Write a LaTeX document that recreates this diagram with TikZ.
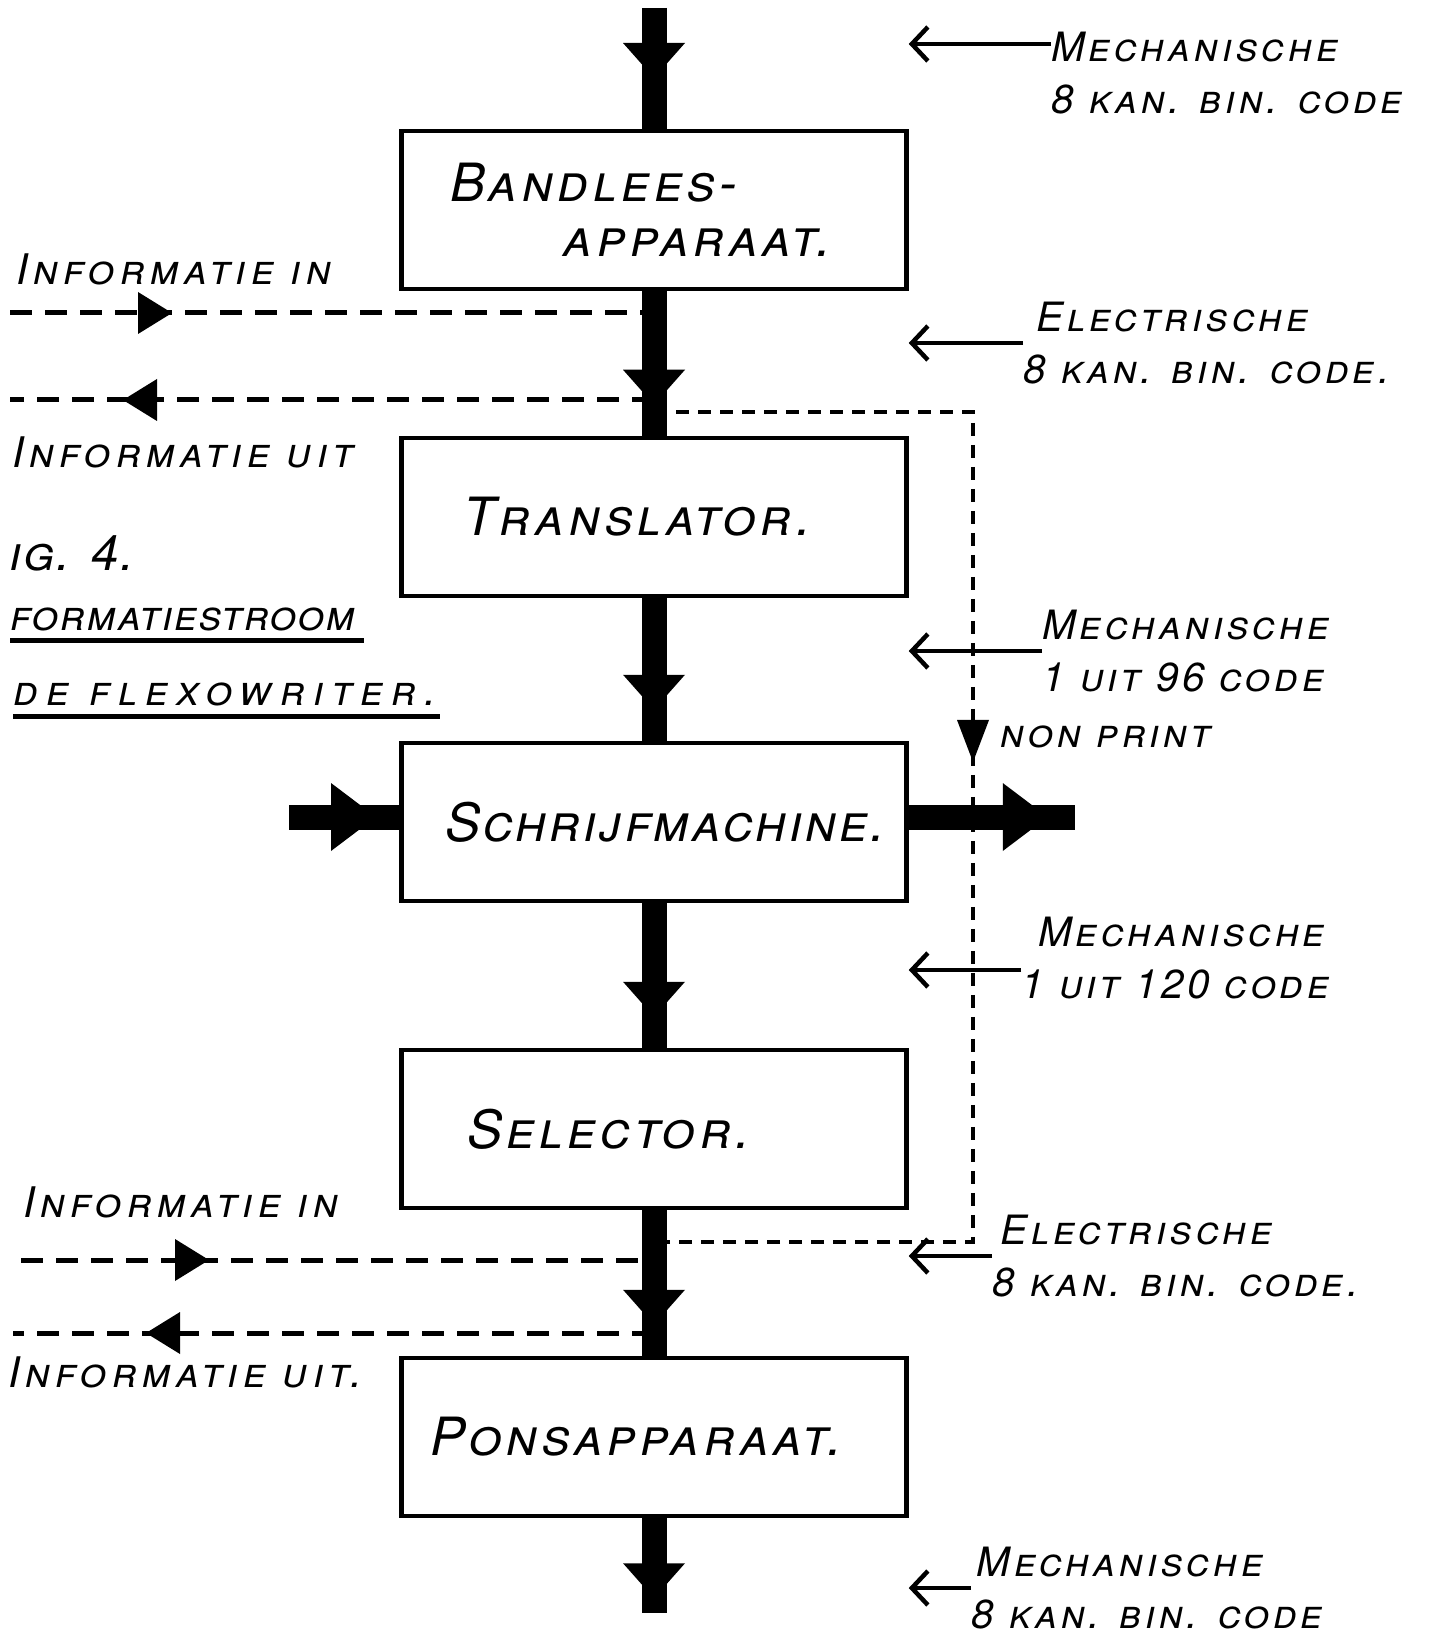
\documentclass[tikz,border=0pt]{standalone}
\usepackage{fontspec}
\setmainfont{TeX Gyre Heros}
\usetikzlibrary{arrows.meta,decorations.markings}
\newcommand\handfont[3]{\fontsize{#1}{#2}\selectfont\itshape\scshape\addfontfeatures{LetterSpace=#3}}
\tikzset{
  box/.style={draw, line width=0.45mm, minimum width=50.5mm, minimum height=15.8mm,
    text width=50.5mm, inner xsep=0pt, align=left, font=\handfont{15}{15.5pt}{8}},
  flow/.style={line width=2.5mm},
  headat/.style={postaction={decorate}, decoration={markings,
    mark=at position #1 with {\fill (-3.5mm,3.1mm) -- (0,0) -- (-3.5mm,-3.1mm) -- cycle;}}},
  bigheadat/.style={postaction={decorate}, decoration={markings,
    mark=at position #1 with {\fill (-4.5mm,3.4mm) -- (0,0) -- (-4.5mm,-3.4mm) -- cycle;}}},
  info/.style={line width=0.5mm, dash pattern=on 2.2mm off 1.3mm},
  infohead/.style={postaction={decorate}, decoration={markings,
    mark=at position #1 with {\fill (-3.4mm,2.1mm) -- (0,0) -- (-3.4mm,-2.1mm) -- cycle;}}},
  npline/.style={line width=0.4mm, dash pattern=on 1.3mm off 0.9mm},
  nphead/.style={postaction={decorate}, decoration={markings,
    mark=at position #1 with {\fill (-4.2mm,1.6mm) -- (0,0) -- (-4.2mm,-1.6mm) -- cycle;}}},
  codearrow/.style={line width=0.45mm, -{Straight Barb[length=1.6mm,width=3.4mm]}},
  codelabel/.style={align=left, inner sep=0pt, anchor=west, font=\handfont{11.5}{15pt}{9}},
  side/.style={inner sep=0pt, font=\handfont{12}{14pt}{12}},
  title/.style 2 args={inner sep=0pt, anchor=west, font=\handfont{#1}{14pt}{#2}},
  underl/.style={line width=0.5mm}
}
\begin{document}
\begin{tikzpicture}[x=0.1mm,y=-0.1mm]
    \useasboundingbox (0,0) rectangle (1433,1636);
    \foreach \name/\y/\txt in {band/210/{\hspace*{4.9mm}Bandlees-\\\hspace*{16.2mm}apparaat.},
        trans/517/{\hspace*{6.2mm}Translator.},
        schrijf/822/{\hspace*{4.4mm}\addfontfeatures{LetterSpace=5}Schrijfmachine.},
        sel/1129/{\hspace*{6.6mm}Selector.},
        pons/1437/{\hspace*{2.9mm}Ponsapparaat.}}
        {\node[box] (\name) at (654,\y) {\txt};
        }
    \coordinate (top) at (654,8);
    \coordinate (bot) at (654,1613);
    \coordinate (kin) at (289,817);
    \coordinate (kout) at (1075,817);
    \coordinate (inA) at (10,313);
    \coordinate (outA) at (10,400);
    \coordinate (inB) at (21,1260);
    \coordinate (outB) at (13,1333);
    \coordinate (npA) at (654,412);
    \coordinate (npB) at (654,1242);
    \coordinate (npR) at (973,822);
    % informatie in / uit
    \draw[info, infohead=16.2mm] (inA) -- (inA -| band.south);
    \draw[info, infohead=-11.3mm] (outA -| band.south) -- (outA);
    \draw[info, infohead=18.8mm] (inB) -- (inB -| sel.south);
    \draw[info, infohead=-13.3mm] (outB -| sel.south) -- (outB);
    \draw[npline, nphead=66.9mm] (npA) -- (npA -| npR) |- (npB);
    % mechanische stroom
    \draw[flow, headat=7mm] (top) -- (band.north);
    \foreach \a/\b in {band/trans, trans/schrijf, schrijf/sel, sel/pons}
        {\draw[flow, headat=-3.1mm] (\a.south) -- (\b.north);
        }
    \draw[flow, headat=8mm] (pons.south) -- (bot);
    \draw[flow, bigheadat=8.7mm] (kin) -- (kin -| schrijf.west);
    \draw[flow, bigheadat=13.9mm] (kout -| schrijf.east) -- (kout);
    % codes
    \node[codelabel] (c1) at (1051,73) {Mechanische\\8 kan. bin. code};
    \node[codelabel] (c2) at (1023,343) {\hspace*{1.3mm}Electrische\\8 kan. bin. code.};
    \node[codelabel] (c3) at (1042,651) {Mechanische\\1 uit 96 code};
    \node[codelabel] (c4) at (1021,958) {\hspace*{1.7mm}Mechanische\\1 uit 120 code};
    \node[codelabel] (c5) at (992,1256) {\hspace*{0.8mm}Electrische\\8 kan. bin. code.};
    \node[codelabel] (c6) at (971,1588) {\hspace*{0.5mm}Mechanische\\8 kan. bin. code};
    \node[codelabel] (np) at (1000,737) {non print};
    \coordinate (a1) at ([yshift=2.9mm]c1.west);
    \coordinate (a4) at ([yshift=-1.2mm]c4.west);
    \draw[codearrow] (a1) -- (a1 -| band.east);
    \draw[codearrow] (c2.west) -- (c2.west -| band.east);
    \draw[codearrow] (c3.west) -- (c3.west -| trans.east);
    \draw[codearrow] (a4) -- (a4 -| schrijf.east);
    \draw[codearrow] (c5.west) -- (c5.west -| sel.east);
    \draw[codearrow] (c6.west) -- (c6.west -| pons.east);
    % links
    \node[side, anchor=west] (inAl) at (16,269) {Informatie in};
    \node[side, anchor=west] (outAl) at (12,452) {Informatie uit};
    \node[side, anchor=west] (inBl) at (23,1202) {Informatie in};
    \node[side, anchor=west] (outBl) at (8,1372) {Informatie uit.};
    \node[title={14}{4}] (fig) at (9,553) {ig. 4.};
    \node[title={12}{4}] (ttl1) at (10,619) {formatiestroom};
    \node[title={12}{19}] (ttl2) at (13,694) {de flexowriter.};
    \draw[underl] ([yshift=-0.9mm]ttl1.south west) -- ([xshift=0.8mm,yshift=-0.9mm]ttl1.south east);
    \draw[underl] ([yshift=-1mm]ttl2.south west) -- ([xshift=0.3mm,yshift=-1mm]ttl2.south east);
\end{tikzpicture}
\end{document}
